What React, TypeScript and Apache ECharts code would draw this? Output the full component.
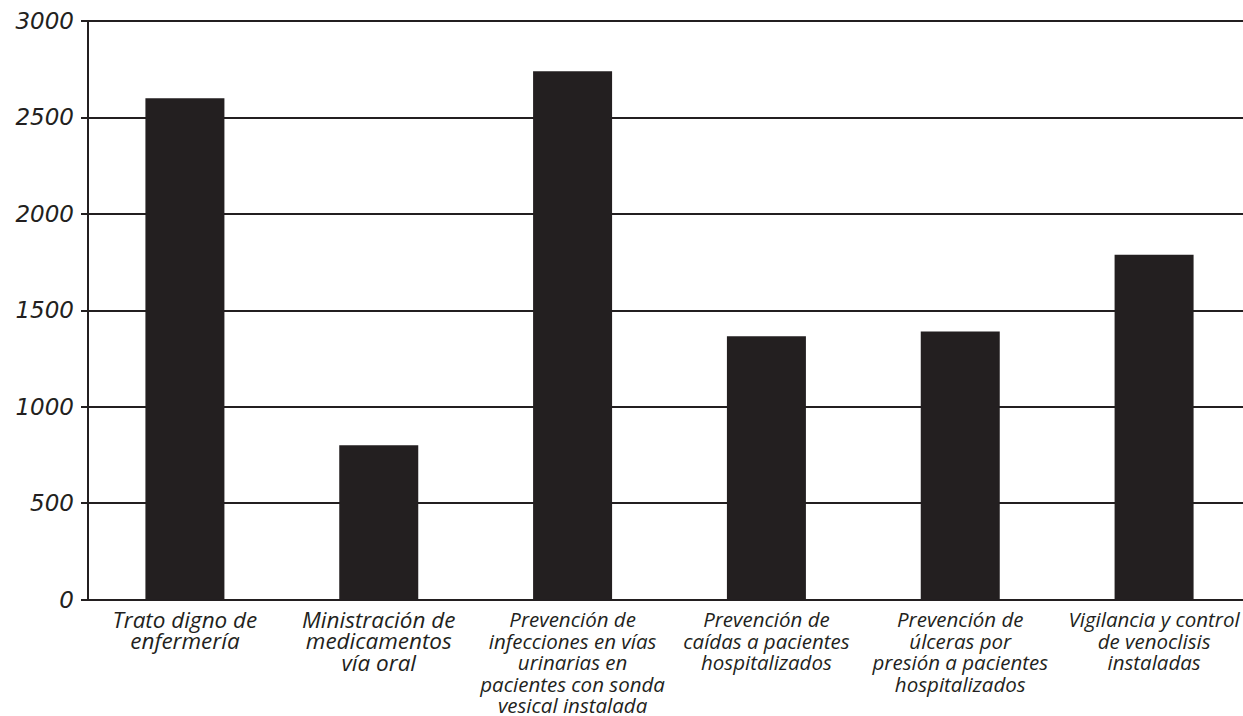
import React, { useEffect, useRef } from "react";
import * as echarts from "echarts";

const categories = [
  "Trato digno de\nenfermería",
  "Ministración de\nmedicamentos\nvía oral",
  "Prevención de\ninfecciones en vías\nurinarias en\npacientes con sonda\nvesical instalada",
  "Prevención de\ncaídas a pacientes\nhospitalizados",
  "Prevención de\núlceras por\npresión a pacientes\nhospitalizados",
  "Vigilancia y control\nde venoclisis\ninstaladas",
];
const values = [2600, 800, 2740, 1365, 1390, 1788];
const yTicks = [0, 500, 1000, 1500, 2000, 2500, 3000];

const INK = "#231f20";
const FONT = "'Open Sans', 'Noto Sans', sans-serif";

export default function App() {
  const ref = useRef<HTMLDivElement>(null);
  useEffect(() => {
    if (!ref.current) return;
    const chart = echarts.init(ref.current, null, { renderer: "svg" });
    chart.setOption({
      animation: false,
      backgroundColor: "#ffffff",
      grid: { left: 88, right: 0, top: 21, bottom: 114, containLabel: false },
      xAxis: {
        type: "category",
        data: categories.map((c, i) => ({
          value: c,
          textStyle: i < 2 ? { fontSize: 22.5 } : { fontSize: 20.5 },
        })),
        axisLine: { show: true, lineStyle: { color: INK, width: 2 } },
        axisTick: { show: false },
        axisLabel: {
          interval: 0,
          margin: 9,
          color: INK,
          fontFamily: FONT,
          fontStyle: "italic",
          fontSize: 22,
          lineHeight: 21.5,
        },
      },
      yAxis: {
        type: "value",
        min: yTicks[0],
        max: yTicks[yTicks.length - 1],
        interval: 500,
        axisLine: { show: true, lineStyle: { color: INK, width: 2 } },
        axisTick: { show: true, length: 7, lineStyle: { color: INK, width: 2 } },
        splitLine: { show: true, lineStyle: { color: INK, width: 2 } },
        axisLabel: {
          margin: 14,
          color: INK,
          fontFamily: "'DejaVu Sans', sans-serif",
          fontStyle: "italic",
          fontSize: 23,
          formatter: (v: number) => String(v),
        },
      },
      series: [
        {
          type: "bar",
          data: values,
          barWidth: 79,
          itemStyle: { color: INK },
        },
      ],
    });
    return () => chart.dispose();
  }, []);
  return (
    <div
      style={{
        position: "absolute",
        left: 0,
        top: 0,
        width: 1243,
        height: 716,
        overflow: "hidden",
        background: "#fff",
      }}
    >
      <div ref={ref} style={{ width: 1251, height: 716 }} />
    </div>
  );
}
